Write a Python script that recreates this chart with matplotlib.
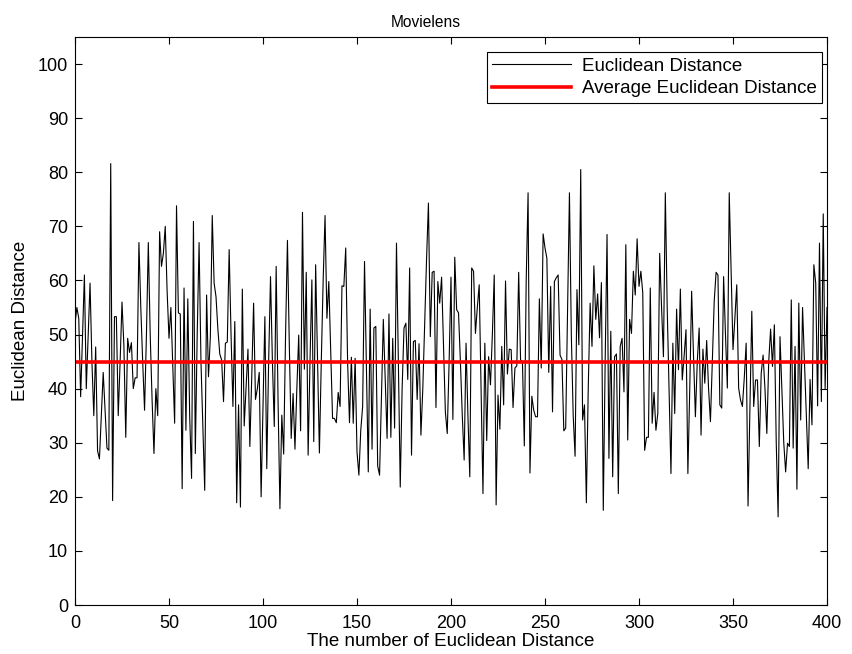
import numpy as np
import matplotlib
matplotlib.use("Agg")
import matplotlib.pyplot as plt

plt.rcParams['font.family'] = ['Liberation Sans', 'DejaVu Sans']

# Euclidean distance values (index 0..400)
dist_000_099 = [52, 55, 53, 38.5, 50, 61, 40, 50, 59.5, 45,
                35, 47.7, 28.5, 27, 35, 43, 36, 29, 28.6, 81.6,
                19.3, 53.3, 53.3, 35, 45, 56, 48, 31, 49.3, 46.7,
                48.5, 40, 42, 42, 67, 55, 45, 36, 50, 67,
                50, 38, 28, 40, 35, 69, 62.6, 65, 70, 58,
                49.3, 55, 44, 33.6, 73.8, 54, 53.8, 21.5, 58.6, 32.3,
                56.6, 35, 23.4, 70.9, 28, 50, 67, 45, 33, 21.2,
                57.3, 42.2, 49.6, 72, 59.5, 57, 51, 46.4, 45.3, 37.6,
                48.4, 48.6, 65.7, 50, 36.7, 52.4, 18.9, 37, 18.1, 58.4,
                33.1, 40, 47.3, 29.3, 42, 55.8, 38, 40, 43, 20]
dist_100_199 = [37, 53.3, 25.2, 45, 60.7, 45, 33, 62.6, 38, 17.8,
                35.1, 27.9, 50, 67.4, 48, 30.8, 39.1, 28.8, 40, 49.9,
                32.2, 72.6, 43.6, 61.5, 27.7, 45, 60.1, 30.2, 62.9, 45,
                28.1, 45, 60, 72, 53, 59.8, 47, 34.5, 34.5, 33.7,
                39.3, 36.7, 59, 58.9, 66, 45, 33.7, 45.8, 33.6, 45.6,
                28.3, 24, 32.3, 36.7, 63.5, 44, 24.6, 54.7, 28.8, 51.2,
                51.5, 25.7, 24, 38, 52.8, 42, 30.8, 53.8, 31, 49.3,
                32.7, 66.9, 45, 21.8, 40, 51.2, 52.1, 41.7, 62.3, 27.7,
                48.7, 48.9, 38, 48.3, 31.4, 40, 52, 64, 74.3, 49.6,
                61.5, 61.7, 36.5, 59.8, 55.8, 60.6, 48, 35.7, 31.7, 45]
dist_200_299 = [60.6, 34.3, 64.3, 54.6, 54, 45, 35, 26.8, 48.4, 35,
                23.7, 62.3, 61.7, 50.2, 55, 59.2, 40, 20.6, 48.4, 30.4,
                45.9, 40.7, 50, 61, 18.5, 38.8, 32.5, 47.8, 37, 59.9,
                42.7, 47.3, 47.2, 36.5, 43.8, 44.2, 61.5, 45.3, 45, 29.4,
                60, 76.2, 24.4, 38.6, 36, 34.8, 34.8, 56.6, 43.8, 68.6,
                66, 64.1, 43, 58.9, 35.7, 59.8, 60.5, 61, 46.2, 45.4,
                32.2, 32.7, 55, 76.2, 50, 35, 27.5, 58.3, 48.1, 80.5,
                34.2, 37, 18.9, 40, 55.8, 47.8, 62.7, 52.8, 57.5, 49.4,
                59.6, 17.5, 45, 68.5, 27.1, 50.6, 23.7, 45.9, 46.4, 20.6,
                47.8, 49.3, 39.4, 66.6, 30.5, 52.8, 50.2, 61.7, 57.3, 67.7]
dist_300_400 = [58.9, 61.7, 57.7, 28.6, 31, 31, 58.6, 33.6, 39.3, 32.3,
                35.4, 65, 55, 45.9, 76.2, 55, 40, 24.3, 48.4, 35.4,
                54.7, 43.5, 58.4, 41.6, 46, 50.9, 24.3, 40, 58, 46,
                34.8, 45, 51.2, 31.4, 47.3, 41, 48.9, 40, 33.9, 45,
                56.1, 61.5, 61, 37, 36.4, 60.7, 50, 40.1, 76.2, 62,
                47.2, 53, 59.2, 40.1, 37.9, 36.7, 42, 48.4, 18.3, 36,
                54.3, 36.7, 41.6, 41.6, 29.3, 42.8, 46.2, 40, 31.7, 45,
                51, 44.1, 51.8, 30, 16.3, 49.6, 40, 30, 24.6, 29.9,
                29.3, 56.4, 29, 47.8, 21.4, 55.8, 34.2, 55, 45, 35,
                25.2, 41.7, 33.3, 62.9, 59.5, 36.8, 66.9, 37.6, 72.3, 40,
                55]
average_distance = 45.0

x_ticks = [0, 50, 100, 150, 200, 250, 300, 350, 400]
y_ticks = [0, 10, 20, 30, 40, 50, 60, 70, 80, 90, 100]

distances = np.array(dist_000_099 + dist_100_199 + dist_200_299 + dist_300_400)
idx = np.arange(len(distances))

fig = plt.figure(figsize=(8.53, 6.54), dpi=100)
ax = fig.add_axes([75 / 853, 49 / 654, 752 / 853, 568 / 654])

ax.plot(idx, distances, color='black', linewidth=0.8, label='Euclidean Distance')
ax.plot([idx[0], idx[-1]], [average_distance, average_distance], color='red',
        linewidth=2.6, label='Average Euclidean Distance')

ax.set_xlim(0, 400)
ax.set_ylim(0, 105)
ax.set_xticks(x_ticks)
ax.set_yticks(y_ticks)
ax.tick_params(direction='in', top=True, right=True, labelsize=13, length=5, width=0.8)
ax.tick_params(axis='x', pad=7)
ax.tick_params(axis='y', pad=5)
for s in ax.spines.values():
    s.set_linewidth(0.8)

ax.text(0.467, 1.013, 'Movielens', transform=ax.transAxes, ha='center', va='bottom',
        fontsize=11.2)
ax.set_xlabel('The number of Euclidean Distance', fontsize=13.5, labelpad=1)
ax.set_ylabel('Euclidean Distance', fontsize=13.5, labelpad=6)

leg = ax.legend(loc='upper right', fontsize=13.5, fancybox=False, framealpha=1,
                edgecolor='black', handlelength=4.2, handletextpad=0.55,
                borderpad=0.3, labelspacing=0.3, borderaxespad=0,
                bbox_to_anchor=(0.9934, 0.9736))
leg.get_frame().set_linewidth(0.8)

fig.savefig('out.png', dpi=100)
